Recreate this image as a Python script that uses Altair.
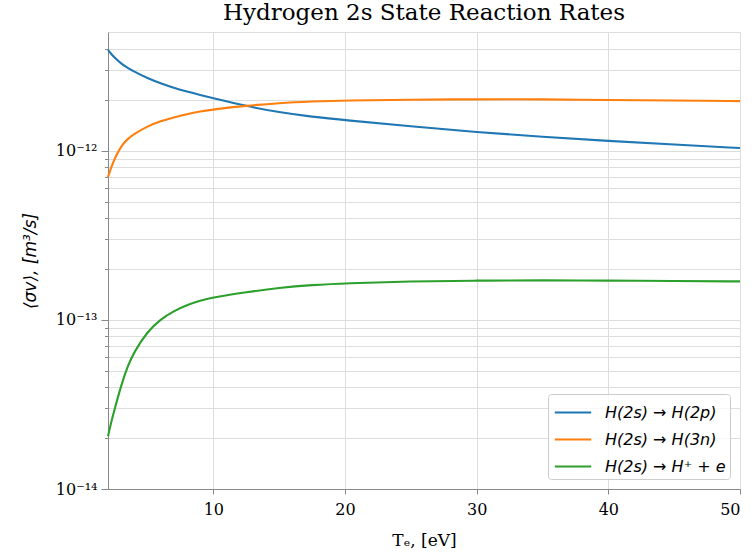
import altair as alt
import pandas as pd

# Electron temperature grid [eV]
T_e = [2, 2.25, 2.5, 3, 3.5, 4, 5, 6, 7, 8, 9, 10, 12.5, 15, 17.5, 20, 25, 30, 35, 40, 45, 50]

# Rates [m^3/s]
rate_2p = [3.95e-12, 3.74e-12, 3.56e-12, 3.28e-12, 3.10e-12, 2.94e-12, 2.69e-12, 2.51e-12,
           2.36e-12, 2.24e-12, 2.14e-12, 2.05e-12, 1.84e-12, 1.69e-12, 1.59e-12, 1.52e-12,
           1.40e-12, 1.29e-12, 1.21e-12, 1.145e-12, 1.09e-12, 1.04e-12]
rate_3n = [0.70e-12, 0.80e-12, 0.90e-12, 1.07e-12, 1.18e-12, 1.26e-12, 1.40e-12, 1.50e-12,
           1.58e-12, 1.65e-12, 1.71e-12, 1.76e-12, 1.85e-12, 1.92e-12, 1.96e-12, 1.99e-12,
           2.01e-12, 2.02e-12, 2.02e-12, 2.00e-12, 1.99e-12, 1.97e-12]
rate_ion = [0.205e-13, 0.25e-13, 0.296e-13, 0.41e-13, 0.535e-13, 0.65e-13, 0.855e-13, 1.01e-13,
            1.13e-13, 1.225e-13, 1.30e-13, 1.36e-13, 1.46e-13, 1.55e-13, 1.61e-13, 1.65e-13,
            1.69e-13, 1.71e-13, 1.715e-13, 1.71e-13, 1.70e-13, 1.69e-13]

series_names = ["H(2s) → H(2p)", "H(2s) → H(3n)", "H(2s) → H⁺ + e"]
series_colors = ["#1f77b4", "#ff7f0e", "#2ca02c"]

x_ticks = [10, 20, 30, 40, 50]
y_ticks = [1e-14, 2e-14, 3e-14, 4e-14, 5e-14, 6e-14, 7e-14, 8e-14, 9e-14,
           1e-13, 2e-13, 3e-13, 4e-13, 5e-13, 6e-13, 7e-13, 8e-13, 9e-13,
           1e-12, 2e-12, 3e-12, 4e-12]

rows = []
for name, vals in zip(series_names, [rate_2p, rate_3n, rate_ion]):
    for t, v in zip(T_e, vals):
        rows.append({"T": t, "rate": v, "series": name})
df = pd.DataFrame(rows)

is_major = "abs(log(datum.value)/LN10 - round(log(datum.value)/LN10)) < 0.001"
exp_expr = "round(log(datum.value)/LN10)"
label_expr = (f"({is_major}) ? ({exp_expr} == -12 ? '10⁻¹²' : ({exp_expr} == -13 ? '10⁻¹³' : "
              f"({exp_expr} == -14 ? '10⁻¹⁴' : ''))) : ''")

chart = alt.Chart(df).mark_line(strokeWidth=2.1, interpolate="basis").encode(
    x=alt.X("T:Q",
            scale=alt.Scale(domain=[2, 50], nice=False, zero=False),
            axis=alt.Axis(values=x_ticks, title="Tₑ, [eV]", tickSize=5,
                          labelFont="DejaVu Serif", labelFontSize=16, labelPadding=7,
                          titleFont="DejaVu Serif", titleFontSize=17, titleFontWeight="normal",
                          titlePadding=15)),
    y=alt.Y("rate:Q",
            scale=alt.Scale(type="log", domain=[1e-14, 5.05e-12], nice=False),
            axis=alt.Axis(values=y_ticks, labelExpr=label_expr,
                          tickSize={"condition": {"test": is_major, "value": 7}, "value": 3.5},
                          title="⟨σv⟩, [m³/s]",
                          labelFont="DejaVu Serif", labelFontSize=16, labelPadding=4,
                          titleFont="DejaVu Sans", titleFontSize=17, titleFontWeight="normal",
                          titleFontStyle="italic", titlePadding=16)),
    color=alt.Color("series:N",
                    scale=alt.Scale(domain=series_names, range=series_colors),
                    sort=series_names,
                    legend=alt.Legend(title=None, orient="bottom-right", offset=10,
                                      symbolType="M-0.9,0H1.9", symbolSize=676,
                                      symbolStrokeWidth=2.1,
                                      labelFont="DejaVu Sans", labelFontStyle="italic",
                                      labelFontSize=16, labelOffset=24, rowPadding=4,
                                      padding=4, strokeColor="#cccccc", cornerRadius=3,
                                      fillColor="rgba(255,255,255,0.8)")),
).properties(
    width=632, height=457,
    title=alt.TitleParams("Hydrogen 2s State Reaction Rates", font="DejaVu Serif",
                          fontSize=23, fontWeight="normal", anchor="middle", offset=7,
                          color="black"),
    autosize=alt.AutoSizeParams(type="none"),
    padding={"left": 108, "top": 32, "right": 16, "bottom": 69},
).configure_view(
    stroke="black", strokeWidth=1.2
).configure_axis(
    grid=True, gridColor="#aaaaaa", gridWidth=1.1, gridOpacity=1, domainColor="black",
    tickColor="black", labelColor="black", titleColor="black", domainWidth=1.2, tickWidth=1.2
).configure(background="white")

chart.save("out.html", embed_options={"renderer": "svg", "actions": False})
